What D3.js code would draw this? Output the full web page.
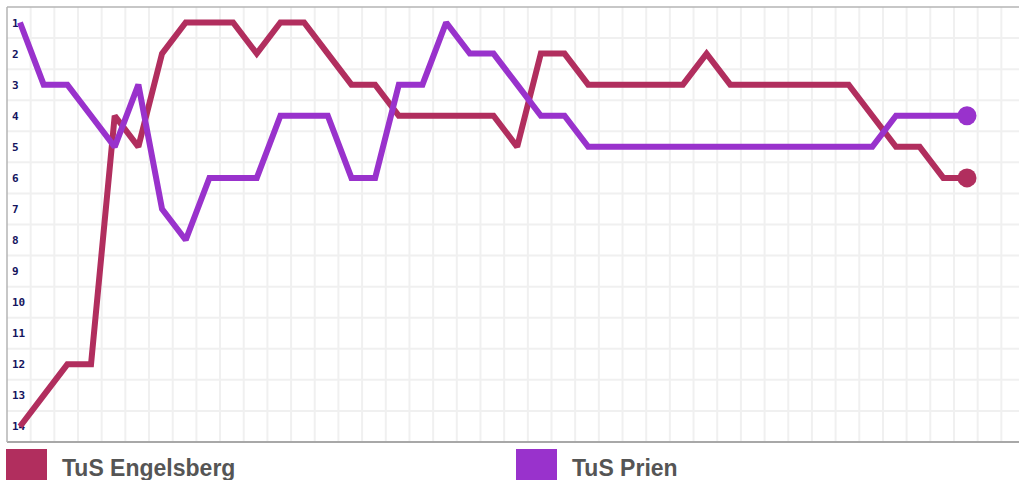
<!DOCTYPE html>
<html>
<head>
<meta charset="utf-8">
<script src="https://cdn.jsdelivr.net/npm/d3@7"></script>
<style>
  body { margin: 0; background: #fff; }
  svg { display: block; }
</style>
</head>
<body>
<svg id="chart" width="1019" height="480"></svg>
<script>
// matchdays 1..41, table position after each one
var matchdays = d3.range(41);
var rankLabels = [1, 2, 3, 4, 5, 6, 7, 8, 9, 10, 11, 12, 13, 14];
var teams = ["TuS Engelsberg", "TuS Prien"];
var colors = ["#b12e5e", "#9932cc"];

var engelsberg = [14, 13, 12, 12, 4, 5, 2, 1, 1, 1, 2, 1, 1, 2, 3, 3, 4, 4, 4, 4,
	4, 5, 2, 2, 3, 3, 3, 3, 3, 2, 3, 3, 3, 3, 3, 3, 4, 5, 5, 6, 6];
var prien = [1, 3, 3, 4, 5, 3, 7, 8, 6, 6, 6, 4, 4, 4, 6, 6, 3, 3, 1, 2,
	2, 3, 4, 4, 5, 5, 5, 5, 5, 5, 5, 5, 5, 5, 5, 5, 5, 4, 4, 4, 4];

var series = [engelsberg, prien];

var svg = d3.select("#chart");
var plot = {left: 7, right: 1019, top: 7, bottom: 442};

var xScale = d3.scaleLinear()
	.domain([0, matchdays.length - 1])
	.range([20, 967]);
var yScale = d3.scaleLinear()
	.domain([0.5, rankLabels.length + 0.5])
	.range([plot.top, plot.bottom]);

//Grid
var grid = svg.append("g").attr("class", "grid");
var vx = [];
for (var k = 1; xScale(k - 0.55) < plot.right; k++) vx.push(k - 0.55);
grid.selectAll(".v").data(vx).enter().append("line")
	.attr("x1", function(d){ return xScale(d); })
	.attr("x2", function(d){ return xScale(d); })
	.attr("y1", plot.top)
	.attr("y2", plot.bottom)
	.attr("stroke", "#f0f0f0")
	.attr("stroke-width", 2);
grid.selectAll(".h").data(rankLabels.slice(0, -1)).enter().append("line")
	.attr("x1", plot.left)
	.attr("x2", plot.right)
	.attr("y1", function(d){ return yScale(d + 0.5); })
	.attr("y2", function(d){ return yScale(d + 0.5); })
	.attr("stroke", "#f0f0f0")
	.attr("stroke-width", 2);

//Borders
svg.append("line")
	.attr("x1", plot.left).attr("x2", plot.right)
	.attr("y1", plot.top).attr("y2", plot.top)
	.attr("stroke", "#b4b4b4").attr("stroke-width", 1.5);
svg.append("line")
	.attr("x1", plot.left).attr("x2", plot.right)
	.attr("y1", plot.bottom).attr("y2", plot.bottom)
	.attr("stroke", "#a8a8a8").attr("stroke-width", 2);
svg.append("line")
	.attr("x1", plot.left).attr("x2", plot.left)
	.attr("y1", plot.top).attr("y2", plot.bottom)
	.attr("stroke", "#b4b4b4").attr("stroke-width", 1.5);

//Rank labels
svg.append("g").selectAll("text")
	.data(rankLabels)
	.enter().append("text")
	.attr("x", 12)
	.attr("y", function(d){ return yScale(d) + 4; })
	.attr("font-family", "DejaVu Sans Mono, monospace")
	.attr("font-weight", "bold")
	.attr("font-size", 11)
	.attr("fill", "#14145e")
	.text(function(d){ return d; });

//Lines
var line = d3.line()
	.x(function(d, i){ return xScale(matchdays[i]); })
	.y(function(d){ return yScale(d); });

series.forEach(function(values, s){
	svg.append("path")
		.datum(values)
		.attr("d", line)
		.attr("fill", "none")
		.attr("stroke", colors[s])
		.attr("stroke-width", 6)
		.attr("stroke-linejoin", "miter")
		.attr("stroke-miterlimit", 2);

	var last = values.length - 1;
	svg.append("circle")
		.attr("cx", xScale(matchdays[last]))
		.attr("cy", yScale(values[last]))
		.attr("r", 9.5)
		.attr("fill", colors[s]);
});

//Legend
var legendX = [6, 516];
teams.forEach(function(name, s){
	svg.append("rect")
		.attr("x", legendX[s])
		.attr("y", 449)
		.attr("width", 41)
		.attr("height", 31)
		.attr("fill", colors[s]);
	svg.append("text")
		.attr("x", legendX[s] + 56)
		.attr("y", 476)
		.attr("font-family", "Liberation Sans, Arial, sans-serif")
		.attr("font-weight", "bold")
		.attr("font-size", 23)
		.attr("fill", "#555")
		.text(name);
});
</script>
</body>
</html>
